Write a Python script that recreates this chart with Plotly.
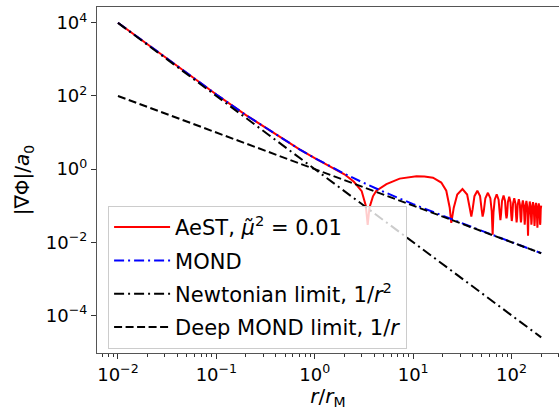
import plotly.graph_objects as go

# ---------------- data ----------------
mond_r = [0.01, 0.02, 0.05, 0.1, 0.2, 0.5, 0.7, 1.0, 1.5, 2.0, 3.0, 5.0, 10.0, 20.0, 50.0, 100.0, 200.0]
mond_g = [10100, 2550, 420, 110, 30, 6.0, 3.47, 2.0, 1.11, 0.75, 0.444, 0.24, 0.11, 0.0525, 0.0204, 0.0101, 0.005025]

newton_r = [0.01, 200.0]
newton_g = [1.0e4, 2.5e-5]

deep_r = [0.01, 200.0]
deep_g = [100.0, 0.005]

aest_r = [0.01, 0.02, 0.05, 0.1, 0.2, 0.5, 0.7, 1.0, 1.5, 2.0, 2.5, 3.0, 3.3, 3.45, 3.6, 3.9,
          4.23, 5.35, 7.29, 10.8, 13.0, 15.9, 19.3, 21.7, 23.5,
          24.4, 25.86, 28.05, 31.7, 35.35, 37.54,
          39.0, 40.18, 41.95, 44.9, 47.85, 49.62,
          50.8, 52.14, 54.15, 57.5, 60.85, 62.86,
          64.2, 65.48, 67.4, 70.6, 73.8, 75.72,
          77.0, 78.18, 79.95, 82.9, 85.85, 87.62,
          88.8, 89.97, 91.73, 94.65, 97.58, 99.33,
          100.5, 101.7, 103.5, 106.5, 109.5, 111.3,
          112.5, 113.7, 115.5, 118.5, 121.5, 123.3,
          124.5, 125.65, 127.38, 130.25, 133.13, 134.85,
          136.0, 137.1, 138.75, 141.5, 144.25, 145.9,
          147.0, 148.2, 150.0, 153.0, 156.0, 157.8,
          159.0, 160.2, 162.0, 165.0, 168.0, 169.8,
          171.0, 172.2, 174.0, 177.0, 180.0, 181.8,
          183.0, 184.2, 186.0, 189.0, 192.0, 193.8,
          195.0, 196.2, 198.0, 200.0]
aest_g = [10100, 2550, 420, 110, 30, 6.0, 3.47, 2.0, 1.11, 0.72, 0.45, 0.25, 0.1, 0.03, 0.09, 0.18,
          0.256, 0.39, 0.55, 0.64, 0.63, 0.58, 0.43, 0.256, 0.089,
          0.034, 0.088, 0.202, 0.285, 0.202, 0.088,
          0.05, 0.079, 0.182, 0.256, 0.182, 0.079,
          0.05, 0.07, 0.16, 0.225, 0.16, 0.07,
          0.016, 0.064, 0.146, 0.205, 0.146, 0.064,
          0.04, 0.059, 0.135, 0.19, 0.135, 0.059,
          0.045, 0.054, 0.124, 0.175, 0.124, 0.054,
          0.038, 0.05, 0.114, 0.16, 0.114, 0.05,
          0.035, 0.047, 0.107, 0.15, 0.107, 0.047,
          0.035, 0.043, 0.099, 0.14, 0.099, 0.043,
          0.03, 0.042, 0.096, 0.135, 0.096, 0.042,
          0.015, 0.04, 0.092, 0.13, 0.092, 0.04,
          0.03, 0.039, 0.089, 0.125, 0.089, 0.039,
          0.028, 0.037, 0.085, 0.12, 0.085, 0.037,
          0.025, 0.036, 0.082, 0.115, 0.082, 0.036,
          0.03, 0.035, 0.08, 0.1]

x_tickvals = [0.01, 0.1, 1, 10, 100]
x_ticktext = ["10<sup>\u22122</sup>", "10<sup>\u22121</sup>", "10<sup>0</sup>", "10<sup>1</sup>", "10<sup>2</sup>"]
y_tickvals = [1e-4, 1e-2, 1, 1e2, 1e4]
y_ticktext = ["10<sup>\u22124</sup>", "10<sup>\u22122</sup>", "10<sup>0</sup>", "10<sup>2</sup>", "10<sup>4</sup>"]

labels = ["AeST, <i>\u03bc\u0303</i><sup>2</sup> = 0.01", "MOND",
          "Newtonian limit, 1/<i>r</i><sup>2</sup>", "Deep MOND limit, 1/<i>r</i>"]

# ---------------- figure ----------------
FONT = "DejaVu Sans"
LW = 2

fig = go.Figure()
fig.add_trace(go.Scatter(x=aest_r, y=aest_g, mode="lines", name=labels[0], legendgroup="a",
                         line=dict(color="#ff0000", width=LW)))
fig.add_trace(go.Scatter(x=mond_r, y=mond_g, mode="lines", name=labels[1], legendgroup="b",
                         line=dict(color="#0000ff", width=LW, dash="10px,4px,2px,4px")))
fig.add_trace(go.Scatter(x=newton_r, y=newton_g, mode="lines", name=labels[2], legendgroup="c",
                         line=dict(color="#000000", width=LW, dash="10px,4px,2px,4px")))
fig.add_trace(go.Scatter(x=deep_r, y=deep_g, mode="lines", name=labels[3], legendgroup="d",
                         line=dict(color="#000000", width=LW, dash="8px,3.5px")))

axis_common = dict(
    showline=True, linecolor="#555555", linewidth=1.2,
    ticks="outside", ticklen=5, tickwidth=1, tickcolor="#333333",
    showgrid=False, zeroline=False,
    tickfont=dict(family=FONT, size=18, color="black"),
)

fig.update_xaxes(type="log", range=[-2.213, 2.482], tickmode="array",
                 tickvals=x_tickvals, ticktext=x_ticktext, mirror=True,
                 minor=dict(ticks="outside", ticklen=3, tickwidth=1, tickcolor="#333333",
                            dtick="D1", showgrid=False),
                 title=dict(text="<i>r</i>/<i>r</i><sub>M</sub>",
                            font=dict(family=FONT, size=20, color="black"), standoff=0),
                 **axis_common)
fig.update_yaxes(type="log", range=[-5.03, 4.434], tickmode="array",
                 tickvals=y_tickvals, ticktext=y_ticktext, mirror=False,
                 title=dict(text="|\u2207\u03a6|/<i>a</i><sub>0</sub>",
                            font=dict(family=FONT, size=20, color="black"), standoff=10),
                 **axis_common)

fig.update_layout(
    width=559, height=410,
    margin=dict(l=97, r=0, t=7, b=57, autoexpand=False),
    paper_bgcolor="white", plot_bgcolor="white",
    font=dict(family=FONT, size=18, color="black"),
    legend=dict(x=0.024, y=0.425, xanchor="left", yanchor="top",
                bgcolor="rgba(255,255,255,0.8)", bordercolor="#cccccc", borderwidth=1,
                font=dict(family=FONT, size=21, color="black"),
                tracegroupgap=3, itemwidth=56),
    showlegend=True,
)

fig.write_html("out.html")
